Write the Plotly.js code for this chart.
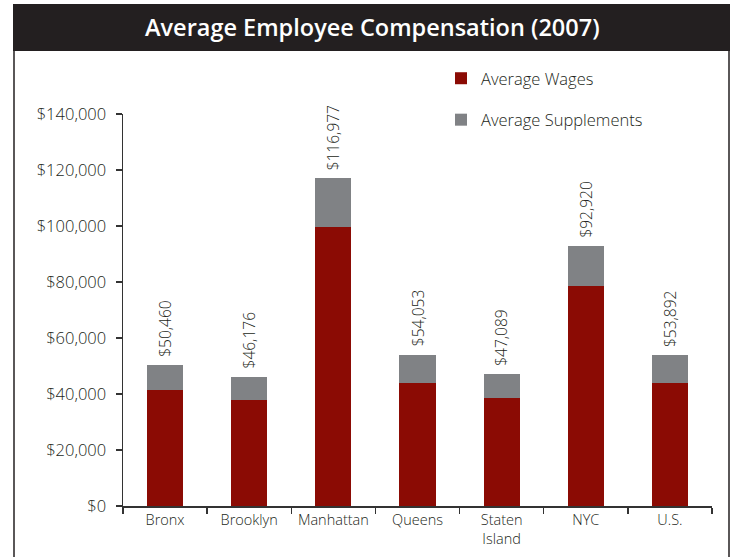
<!DOCTYPE html>
<html>
<head>
<meta charset="utf-8">
<script src="https://cdn.plot.ly/plotly-3.0.1.min.js"></script>
<style>
html,body{margin:0;padding:0;background:#fff;}
#chart{width:732px;height:557px;}
</style>
</head>
<body>
<div id="chart"></div>
<script>
// ---- data ----
var categories = ["Bronx", "Brooklyn", "Manhattan", "Queens", "Staten<br>Island", "NYC", "U.S."];
var wages = [41400, 37900, 99500, 43900, 38600, 78500, 43900];
var supplements = [9060, 8276, 17477, 10153, 8489, 14420, 9992];
var totals = [50460, 46176, 116977, 54053, 47089, 92920, 53892];
var totalLabels = ["$50,460", "$46,176", "$116,977", "$54,053", "$47,089", "$92,920", "$53,892"];
var yTickVals = [0, 20000, 40000, 60000, 80000, 100000, 120000, 140000];
var yTickText = ["$0", "$20,000", "$40,000", "$60,000", "$80,000", "$100,000", "$120,000", "$140,000"];

// ---- layout helpers ----
var W = 732, H = 557;
var M = {l: 123, r: 20, t: 114, b: 51};
var PW = W - M.l - M.r, PH = H - M.t - M.b;
function px(x) { return (x - M.l) / PW; }
function py(y) { return (H - M.b - y) / PH; }

var FONT = "Open Sans, Noto Sans, DejaVu Sans, sans-serif";
var TXT = "#231F20";

var traces = [
  {
    type: "bar", name: "Average Wages", x: categories, y: wages,
    marker: {color: "#8B0B04"}, width: 0.43, legendgroup: "a",
    hoverinfo: "y"
  },
  {
    type: "bar", name: "Average Supplements", x: categories, y: supplements,
    marker: {color: "#808285"}, width: 0.43, legendgroup: "b",
    hoverinfo: "y"
  }
];

var annotations = categories.map(function (c, i) {
  return {
    x: c, y: totals[i], xref: "x", yref: "y",
    text: totalLabels[i], showarrow: false, textangle: -90,
    xanchor: "center", yanchor: "bottom", yshift: 6,
    font: {family: FONT, size: 15.5, color: TXT, weight: 300}
  };
});
annotations.push({
  xref: "paper", yref: "paper", x: px(372), y: py(27),
  xanchor: "center", yanchor: "middle", showarrow: false,
  text: "Average Employee Compensation (2007)",
  font: {family: FONT, size: 23.5, color: "#ffffff", weight: 600}
});

var shapes = [
  {type: "rect", xref: "paper", yref: "paper", x0: px(13), x1: px(730), y0: py(51), y1: py(4),
   fillcolor: "#231F20", line: {width: 0}, layer: "below"},
  {type: "line", xref: "paper", yref: "paper", x0: px(14), x1: px(14), y0: py(51), y1: py(560),
   line: {color: "#231F20", width: 1.5}},
  {type: "line", xref: "paper", yref: "paper", x0: px(729), x1: px(729), y0: py(51), y1: py(560),
   line: {color: "#231F20", width: 1.5}}
];

var layout = {
  width: W, height: H,
  margin: M,
  paper_bgcolor: "#ffffff", plot_bgcolor: "#ffffff",
  barmode: "stack",
  showlegend: true,
  legend: {
    x: px(441), y: py(61), xanchor: "left", yanchor: "top",
    font: {family: FONT, size: 16.5, color: TXT, weight: 300},
    traceorder: "grouped", tracegroupgap: 17,
    bgcolor: "rgba(0,0,0,0)"
  },
  xaxis: {
    type: "category",
    showline: true, linecolor: "#333333", linewidth: 1.5,
    ticks: "outside", tickson: "boundaries", ticklen: 6, tickcolor: "#333333", tickwidth: 1.5,
    tickfont: {family: FONT, size: 14.5, color: TXT, weight: 300},
    showgrid: false, zeroline: false, fixedrange: true
  },
  yaxis: {
    range: [0, 140000],
    tickvals: yTickVals, ticktext: yTickText,
    showline: true, linecolor: "#333333", linewidth: 1.5,
    ticks: "outside", ticklen: 6, tickcolor: "#333333", tickwidth: 1.5,
    ticklabelstandoff: 6,
    tickfont: {family: FONT, size: 16.5, color: TXT, weight: 300},
    showgrid: false, zeroline: false, fixedrange: true
  },
  annotations: annotations,
  shapes: shapes
};

Plotly.newPlot("chart", traces, layout, {displayModeBar: false, staticPlot: true});
</script>
</body>
</html>
